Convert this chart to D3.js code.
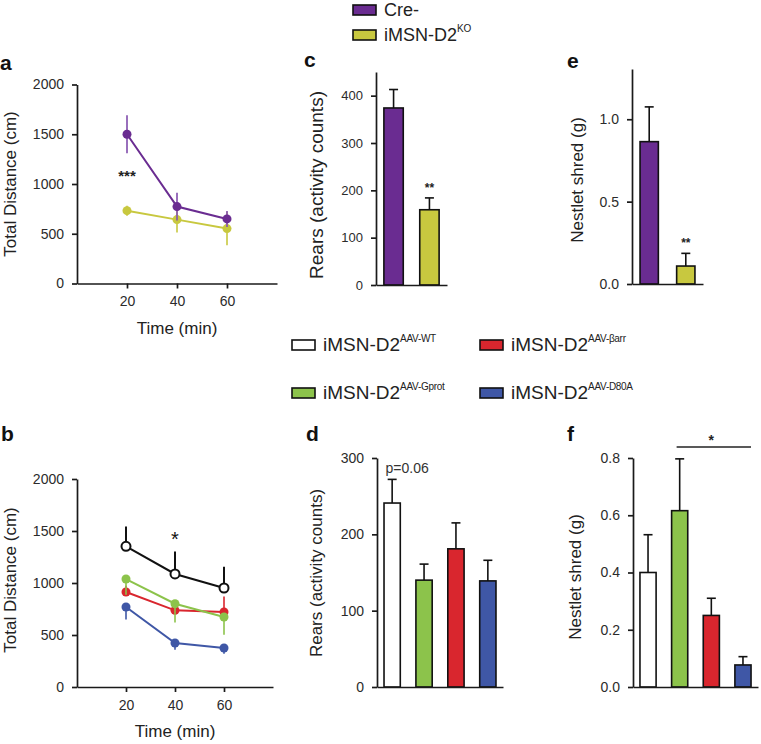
<!DOCTYPE html>
<html>
<head>
<meta charset="utf-8">
<script src="https://cdn.jsdelivr.net/npm/d3@7"></script>
<style>
  body { margin: 0; background: #fff; }
  svg { display: block; font-family: "Liberation Sans", Arial, sans-serif; }
  .axis path, .axis line { stroke: #1a1a1a; stroke-width: 1.7; }
  .axis text { fill: #2b2b2b; font-size: 14px; }
</style>
</head>
<body>
<div id="datavis"></div>
<script>
// ---- data ----
const times = [20, 40, 60];

// panel a: total distance (cm)
const creDistance = [1500, 773, 649];
const creDistanceSem = [190, 140, 80];
const koDistance = [732, 642, 552];
const koDistanceSem = [50, 130, 167];

// panel b: total distance (cm), AAV groups
const wtDistance = [1353, 1087, 952];
const wtDistanceSem = [190, 215, 205];
const gprotDistance = [1038, 801, 673];
const gprotDistanceSem = [150, 180, 170];
const barrDistance = [913, 737, 721];
const barrDistanceSem = [60, 90, 150];
const d80aDistance = [769, 423, 375];
const d80aDistanceSem = [120, 65, 55];

// panels c/e: Cre- vs KO
const koGroups = ["Cre-", "iMSN-D2KO"];
const koRears = [374, 159];
const koRearsSem = [39, 25];
const koNestlet = [0.864, 0.109];
const koNestletSem = [0.211, 0.077];

// panels d/f: AAV groups
const aavGroups = ["AAV-WT", "AAV-Gprot", "AAV-βarr", "AAV-D80A"];
const aavRears = [241, 140, 181, 139];
const aavRearsSem = [31, 21, 34, 27];
const aavNestlet = [0.400, 0.616, 0.250, 0.077];
const aavNestletSem = [0.132, 0.181, 0.060, 0.029];

// ---- colours ----
const PURPLE = "#6a2c91", OLIVE = "#c8c83f";
const WHITE = "#ffffff", GREEN = "#8cc34b", RED = "#d9262e", BLUE = "#3f57a6";
const koColors = [PURPLE, OLIVE];
const aavColors = [WHITE, GREEN, RED, BLUE];

const svg = d3.select("#datavis")
  .append("svg")
    .attr("width", 761)
    .attr("height", 744);

function panelLetter(txt, x, y) {
  svg.append("text")
    .attr("x", x).attr("y", y)
    .style("font-size", "21px").style("font-weight", "bold").style("fill", "#111")
    .text(txt);
}

function yTitle(txt, x, y, size) {
  svg.append("text")
    .attr("transform", "translate(" + x + "," + y + ") rotate(-90)")
    .attr("text-anchor", "middle")
    .style("font-size", size + "px").style("fill", "#222")
    .text(txt);
}

function yAxis(scale, x, ticks, fmt, fontSize) {
  const g = svg.append("g")
    .attr("class", "axis")
    .attr("transform", "translate(" + x + ",0)")
    .call(d3.axisLeft(scale).tickValues(ticks).tickFormat(fmt).tickSize(5).tickPadding(8).tickSizeOuter(0));
  if (fontSize) g.selectAll("text").style("font-size", fontSize + "px");
  return g;
}

// ---------- line panels (a, b) ----------
function linePanel(cfg) {
  const x = d3.scaleLinear().domain([0, 80]).range([77, cfg.xEnd]);
  const y = d3.scaleLinear().domain([0, 2000]).range([cfg.y0, cfg.yTop]);

  yAxis(y, 77, [0, 500, 1000, 1500, 2000], d3.format("d"));
  svg.append("g")
    .attr("class", "axis")
    .attr("transform", "translate(0," + cfg.y0 + ")")
    .call(d3.axisBottom(x).tickValues(times).tickSize(5).tickPadding(8).tickSizeOuter(0));

  svg.append("text")
    .attr("x", x(40)).attr("y", cfg.y0 + 50)
    .attr("text-anchor", "middle")
    .style("font-size", "17px").style("fill", "#222")
    .text("Time (min)");

  const line = d3.line().x((d, i) => x(times[i])).y(d => y(d));

  cfg.series.forEach(s => {
    // error bars
    s.values.forEach((v, i) => {
      const lo = s.dir === "up" ? v : v - s.sem[i];
      const hi = s.dir === "down" ? v : v + s.sem[i];
      svg.append("line")
        .attr("x1", x(times[i])).attr("x2", x(times[i]))
        .attr("y1", y(lo)).attr("y2", y(hi))
        .attr("stroke", s.errColor || s.color)
        .attr("stroke-width", 2)
        .attr("stroke-opacity", s.errOpacity || 1);
    });
    svg.append("path")
      .datum(s.values)
      .attr("fill", "none")
      .attr("stroke", s.color)
      .attr("stroke-width", 2)
      .attr("d", line);
    svg.selectAll(null)
      .data(s.values)
      .join("circle")
        .attr("cx", (d, i) => x(times[i]))
        .attr("cy", d => y(d))
        .attr("r", 4.5)
        .attr("fill", s.open ? "#fff" : s.color)
        .attr("stroke", s.color)
        .attr("stroke-width", s.open ? 2 : 0);
  });
  return {x, y};
}

// panel a
panelLetter("a", 0, 70);
yTitle("Total Distance (cm)", 16, 184, 17);
const pa = linePanel({
  xEnd: 277, y0: 283.5, yTop: 84.5,
  series: [
    {values: koDistance, sem: koDistanceSem, color: OLIVE, dir: "both", errOpacity: 0.8},
    {values: creDistance, sem: creDistanceSem, color: PURPLE, dir: "both", errColor: "#8756b0", errOpacity: 0.85}
  ]
});
svg.append("text")
  .attr("x", pa.x(20)).attr("y", pa.y(koDistance[0]) - 30)
  .attr("text-anchor", "middle")
  .style("font-size", "15px").style("font-weight", "bold").style("fill", "#222")
  .text("***");

// panel b
panelLetter("b", 1, 441);
yTitle("Total Distance (cm)", 16, 580, 17);
const pb = linePanel({
  xEnd: 273, y0: 687, yTop: 479,
  series: [
    {values: d80aDistance, sem: d80aDistanceSem, color: BLUE, dir: "down", errOpacity: 0.8},
    {values: barrDistance, sem: barrDistanceSem, color: RED, dir: "up", errOpacity: 0.8},
    {values: gprotDistance, sem: gprotDistanceSem, color: GREEN, dir: "down", errOpacity: 0.8},
    {values: wtDistance, sem: wtDistanceSem, color: "#111", dir: "up", open: true}
  ]
});
svg.append("text")
  .attr("x", pb.x(40)).attr("y", 546)
  .attr("text-anchor", "middle")
  .style("font-size", "20px").style("fill", "#111")
  .text("*");

// ---------- bar panels (c, d, e, f) ----------
function barPanel(cfg) {
  const x = d3.scaleBand()
    .domain(cfg.groups)
    .range([cfg.x0, cfg.x1])
    .paddingInner(cfg.pin)
    .paddingOuter(0.22);
  const y = d3.scaleLinear().domain([0, cfg.yMax]).range([cfg.y0, cfg.yTop]);

  // error bars (upward only)
  cfg.groups.forEach((gname, i) => {
    const cx = x(gname) + x.bandwidth() / 2;
    const top = y(cfg.values[i] + cfg.sem[i]);
    svg.append("line")
      .attr("x1", cx).attr("x2", cx)
      .attr("y1", y(cfg.values[i])).attr("y2", top)
      .attr("stroke", "#111").attr("stroke-width", 1.6);
    svg.append("line")
      .attr("x1", cx - 4.5).attr("x2", cx + 4.5)
      .attr("y1", top).attr("y2", top)
      .attr("stroke", "#111").attr("stroke-width", 1.6);
  });

  svg.selectAll(null)
    .data(cfg.values)
    .join("rect")
      .attr("x", (d, i) => x(cfg.groups[i]))
      .attr("y", d => y(d))
      .attr("width", x.bandwidth())
      .attr("height", d => cfg.y0 - y(d))
      .attr("fill", (d, i) => cfg.colors[i])
      .attr("stroke", "#111")
      .attr("stroke-width", 1.6);

  yAxis(y, cfg.x0, cfg.ticks, cfg.fmt, cfg.tickFont);
  svg.append("g")
    .attr("class", "axis")
    .attr("transform", "translate(0," + cfg.y0 + ")")
    .call(d3.axisBottom(x).tickValues([]).tickSizeOuter(0));
  return {x, y};
}

// panel c
panelLetter("c", 304, 67);
yTitle("Rears (activity counts)", 323, 185, 19);
const pc = barPanel({
  groups: koGroups, values: koRears, sem: koRearsSem, colors: koColors,
  x0: 376, x1: 447, pin: 0.46, y0: 285, yTop: 72, yMax: 450,
  ticks: [0, 100, 200, 300, 400], fmt: d3.format("d"), tickFont: 13
});
svg.append("text")
  .attr("x", pc.x(koGroups[1]) + pc.x.bandwidth() / 2)
  .attr("y", pc.y(koRears[1] + koRearsSem[1]) - 6)
  .attr("text-anchor", "middle")
  .style("font-size", "12px").style("font-weight", "bold").style("fill", "#222")
  .text("**");

// panel e
panelLetter("e", 567, 68);
yTitle("Nestlet shred (g)", 583, 180, 17);
const pe = barPanel({
  groups: koGroups, values: koNestlet, sem: koNestletSem, colors: koColors,
  x0: 632, x1: 703, pin: 0.5, y0: 284, yTop: 69, yMax: 1.305,
  ticks: [0, 0.5, 1.0], fmt: d3.format(".1f")
});
svg.append("text")
  .attr("x", pe.x(koGroups[1]) + pe.x.bandwidth() / 2)
  .attr("y", pe.y(koNestlet[1] + koNestletSem[1]) - 6)
  .attr("text-anchor", "middle")
  .style("font-size", "12px").style("font-weight", "bold").style("fill", "#222")
  .text("**");

// panel d
panelLetter("d", 306, 441);
yTitle("Rears (activity counts)", 322, 573, 17);
const pd = barPanel({
  groups: aavGroups, values: aavRears, sem: aavRearsSem, colors: aavColors,
  x0: 377, x1: 503, pin: 0.49, y0: 687, yTop: 458, yMax: 300,
  ticks: [0, 100, 200, 300], fmt: d3.format("d")
});
svg.append("text")
  .attr("x", pd.x(aavGroups[0]) + pd.x.bandwidth() / 2 + 15)
  .attr("y", 473)
  .attr("text-anchor", "middle")
  .style("font-size", "14px").style("fill", "#333")
  .text("p=0.06");

// panel f
panelLetter("f", 567, 441);
yTitle("Nestlet shred (g)", 581, 577, 17);
const pf = barPanel({
  groups: aavGroups, values: aavNestlet, sem: aavNestletSem, colors: aavColors,
  x0: 633, x1: 758, pin: 0.49, y0: 687, yTop: 458, yMax: 0.8,
  ticks: [0, 0.2, 0.4, 0.6, 0.8], fmt: d3.format(".1f")
});
svg.append("line")
  .attr("x1", pf.x(aavGroups[1]) + 5).attr("x2", pf.x(aavGroups[3]) + pf.x.bandwidth())
  .attr("y1", 447).attr("y2", 447)
  .attr("stroke", "#222").attr("stroke-width", 1.4);
svg.append("text")
  .attr("x", (pf.x(aavGroups[1]) + pf.x(aavGroups[3]) + pf.x.bandwidth()) / 2)
  .attr("y", 445)
  .attr("text-anchor", "middle")
  .style("font-size", "14px").style("font-weight", "bold").style("fill", "#222")
  .text("*");

// ---------- legends ----------
function legendItem(x, y, color, sup, fontSize, supSize) {
  svg.append("rect")
    .attr("x", x).attr("y", y - 11)
    .attr("width", 23).attr("height", 10)
    .attr("fill", color).attr("stroke", "#111").attr("stroke-width", 1.6);
  const t = svg.append("text")
    .attr("x", x + 31).attr("y", y)
    .style("font-size", fontSize + "px").style("fill", "#222");
  if (sup === null) {
    t.text("Cre-");
    return;
  }
  t.append("tspan").text("iMSN-D2");
  t.append("tspan")
    .attr("dy", -9)
    .style("font-size", supSize + "px")
    .style("letter-spacing", "-0.3px")
    .text(sup);
}

legendItem(353, 16, koColors[0], null, 18, 10);
legendItem(353, 41, koColors[1], "KO", 18, 10);

legendItem(292, 351, aavColors[0], aavGroups[0], 19, 10);
legendItem(480, 351, aavColors[2], aavGroups[2], 19, 10);
legendItem(292, 399, aavColors[1], aavGroups[1], 19, 10);
legendItem(480, 399, aavColors[3], aavGroups[3], 19, 10);
</script>
</body>
</html>
